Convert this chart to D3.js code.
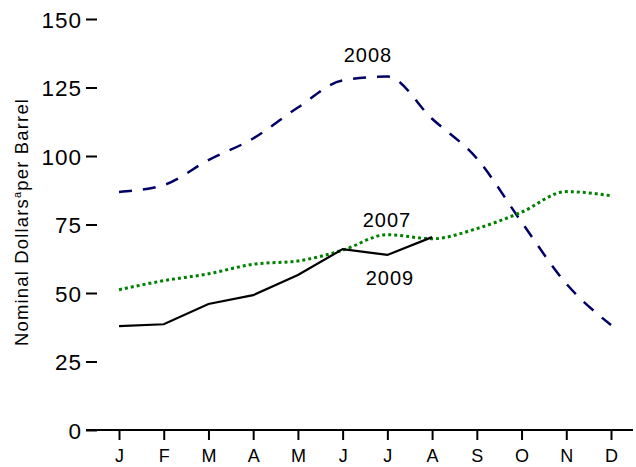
<!DOCTYPE html>
<html><head><meta charset="utf-8">
<script src="https://cdn.jsdelivr.net/npm/d3@7"></script>
<style>body{margin:0;background:#fff}svg{display:block}text{font-family:"Liberation Sans",Arial,sans-serif}</style>
</head><body>
<svg id="c" width="636" height="467"></svg>
<script>
const months = ["J","F","M","A","M","J","J","A","S","O","N","D"];
const yTicks = [0,25,50,75,100,125,150];
const s2007 = [51.2, 54.5, 57.0, 60.5, 61.7, 65.6, 71.3, 69.8, 73.5, 79.5, 87.0, 85.5];
const s2008 = [86.9, 89.4, 98.5, 106.4, 117.7, 127.6, 129.0, 113.6, 99.1, 75.9, 53.4, 38.3];
const s2009 = [37.9, 38.6, 46.0, 49.2, 56.6, 66.0, 63.9, 70.4];

const svg = d3.select("#c");
const x = d3.scalePoint().domain(d3.range(12)).range([119, 611]);
const y = d3.scaleLinear().domain([0,150]).range([430,19]);

// y axis ticks
const ya = svg.append("g").attr("transform","translate(97,0)")
  .call(d3.axisLeft(y).tickValues(yTicks).tickSize(11).tickPadding(4));
ya.select(".domain").remove();
ya.selectAll("line").attr("stroke","#000").attr("stroke-width",2);
ya.selectAll("text").attr("font-size",22.5).attr("letter-spacing",1).attr("fill","#000").attr("dy","0.36em");

// x axis
svg.append("line").attr("x1",86).attr("x2",633).attr("y1",y(0)).attr("y2",y(0))
  .attr("stroke","#000").attr("stroke-width",2);
const xa = svg.append("g").attr("transform",`translate(0,${y(0)})`)
  .call(d3.axisBottom(x).tickFormat(i=>months[i]).tickSize(10).tickPadding(9));
xa.select(".domain").remove();
xa.selectAll("line").attr("stroke","#000").attr("stroke-width",2);
xa.selectAll("text").attr("font-size",18).attr("fill","#000");

// y title
const t = svg.append("text").attr("transform","translate(28,222.5) rotate(-90)")
  .attr("text-anchor","middle").attr("font-size",18.5).attr("fill","#000")
  .attr("textLength",247).attr("lengthAdjust","spacing");
t.append("tspan").text("Nominal Dollars");
t.append("tspan").text("a").attr("font-size",11).attr("dy","-0.6em");
t.append("tspan").text("per Barrel").attr("dy","0.37em");

const line = d3.line().x((d,i)=>x(i)).y(d=>y(d));
svg.append("path").datum(s2008).attr("d", line.curve(d3.curveMonotoneX))
  .attr("fill","none").attr("stroke","#000066").attr("stroke-width",2.5).attr("stroke-dasharray","13,11");
svg.append("path").datum(s2007).attr("d", line.curve(d3.curveMonotoneX))
  .attr("fill","none").attr("stroke","#008000").attr("stroke-width",3).attr("stroke-dasharray","3,3");
svg.append("path").datum(s2009).attr("d", line.curve(d3.curveLinear))
  .attr("fill","none").attr("stroke","#000").attr("stroke-width",2.2);

const lab = [["2008",368,62],["2007",387,227],["2009",390,285]];
svg.selectAll("text.lab").data(lab).join("text").attr("class","lab")
  .attr("x",d=>d[1]).attr("y",d=>d[2]).attr("text-anchor","middle")
  .attr("font-size",20).attr("letter-spacing",1).attr("fill","#000").text(d=>d[0]);
</script>
</body></html>
